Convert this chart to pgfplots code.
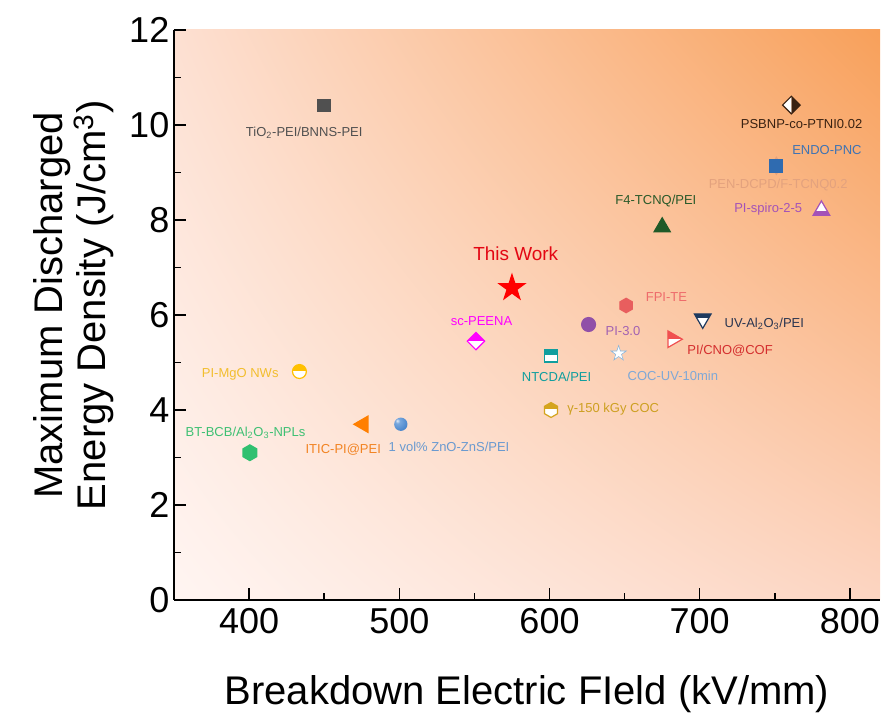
\documentclass[border=0pt]{standalone}
\usepackage{fontspec}
\setmainfont{Liberation Sans}
\usepackage{pgfplots}
\pgfplotsset{compat=1.18}
\usetikzlibrary{plotmarks,shadings}

% ---------- colours ----------
\definecolor{cTiO}{HTML}{505050}
\definecolor{cPSB}{HTML}{3A2212}
\definecolor{cENDO}{HTML}{2F6BB0}
\definecolor{cENDOt}{HTML}{3F73B3}
\definecolor{cPEN}{HTML}{E3A27E}
\definecolor{cF4}{HTML}{1F5A28}
\definecolor{cF4t}{HTML}{2A5A2A}
\definecolor{cSPI}{HTML}{A352B8}
\definecolor{cTW}{HTML}{FF0000}
\definecolor{cTWt}{HTML}{E30613}
\definecolor{cFPI}{HTML}{E85E5E}
\definecolor{cFPIt}{HTML}{EE6B6B}
\definecolor{cPI}{HTML}{9050A8}
\definecolor{cPIt}{HTML}{A262B2}
\definecolor{cUV}{HTML}{1E3A5F}
\definecolor{cUVt}{HTML}{2A3550}
\definecolor{cCNO}{HTML}{F05050}
\definecolor{cCNOt}{HTML}{D42E2E}
\definecolor{cCOC}{HTML}{7FB0DA}
\definecolor{cCOCt}{HTML}{7FA8D6}
\definecolor{cSC}{HTML}{FF00FF}
\definecolor{cNT}{HTML}{109E9E}
\definecolor{cMg}{HTML}{FFC000}
\definecolor{cMgt}{HTML}{F2BE2E}
\definecolor{cGam}{HTML}{D4A41E}
\definecolor{cGamt}{HTML}{CDA021}
\definecolor{cITIC}{HTML}{FF7F00}
\definecolor{cITICt}{HTML}{F28322}
\definecolor{cZnOt}{HTML}{6A9AD0}
\definecolor{zHi}{HTML}{E2ECF8}
\definecolor{zMid}{HTML}{79A8DE}
\definecolor{zMain}{HTML}{4A86CC}
\definecolor{zEdge}{HTML}{3A6EAE}
\definecolor{cBT}{HTML}{30C070}
\definecolor{cBTt}{HTML}{3EC073}
\definecolor{bgUR}{HTML}{F8A05A}
\definecolor{bgUL}{HTML}{FDE0D2}
\definecolor{bgLL}{HTML}{FFF5F2}
\definecolor{bgLR}{HTML}{FCD5C2}

% glossy sphere for the ZnO-ZnS point
\pgfdeclareradialshading{zball}{\pgfpoint{-14bp}{14bp}}{%
  color(0bp)=(zHi); color(9bp)=(zMid); color(32bp)=(zMain); color(72bp)=(zEdge)}

% ---------- mark outlines ----------
\newdimen\mkA
\newdimen\mkIn
\newcommand\pathcircle{\pgfpathcircle{\pgfpointorigin}{\pgfplotmarksize}}
\newcommand\pathsquare{\mkA=2\pgfplotmarksize
  \pgfpathrectangle{\pgfqpoint{-\pgfplotmarksize}{-\pgfplotmarksize}}{\pgfqpoint{\mkA}{\mkA}}}
\newcommand\pathdiamond{%
  \pgfpathmoveto{\pgfqpoint{0pt}{\pgfplotmarksize}}%
  \pgfpathlineto{\pgfqpoint{\pgfplotmarksize}{0pt}}%
  \pgfpathlineto{\pgfqpoint{0pt}{-\pgfplotmarksize}}%
  \pgfpathlineto{\pgfqpoint{-\pgfplotmarksize}{0pt}}%
  \pgfpathclose}
\newcommand\pathtri[3]{%
  \pgfpathmoveto{\pgfqpointpolar{#1}{\pgfplotmarksize}}%
  \pgfpathlineto{\pgfqpointpolar{#2}{\pgfplotmarksize}}%
  \pgfpathlineto{\pgfqpointpolar{#3}{\pgfplotmarksize}}%
  \pgfpathclose}
\newcommand\pathtriup{\pathtri{90}{210}{330}}
\newcommand\pathtridown{\pathtri{270}{30}{150}}
\newcommand\pathtriright{\pathtri{0}{120}{240}}
\newcommand\pathtrileft{\pathtri{180}{300}{60}}
\newcommand\pathhex{%
  \pgfpathmoveto{\pgfqpointpolar{90}{\pgfplotmarksize}}%
  \pgfpathlineto{\pgfqpointpolar{150}{\pgfplotmarksize}}%
  \pgfpathlineto{\pgfqpointpolar{210}{\pgfplotmarksize}}%
  \pgfpathlineto{\pgfqpointpolar{270}{\pgfplotmarksize}}%
  \pgfpathlineto{\pgfqpointpolar{330}{\pgfplotmarksize}}%
  \pgfpathlineto{\pgfqpointpolar{30}{\pgfplotmarksize}}%
  \pgfpathclose}
\newcommand\pathstar{\mkIn=0.382\pgfplotmarksize
  \pgfpathmoveto{\pgfqpointpolar{90}{\pgfplotmarksize}}%
  \pgfpathlineto{\pgfqpointpolar{126}{\mkIn}}%
  \pgfpathlineto{\pgfqpointpolar{162}{\pgfplotmarksize}}%
  \pgfpathlineto{\pgfqpointpolar{198}{\mkIn}}%
  \pgfpathlineto{\pgfqpointpolar{234}{\pgfplotmarksize}}%
  \pgfpathlineto{\pgfqpointpolar{270}{\mkIn}}%
  \pgfpathlineto{\pgfqpointpolar{306}{\pgfplotmarksize}}%
  \pgfpathlineto{\pgfqpointpolar{342}{\mkIn}}%
  \pgfpathlineto{\pgfqpointpolar{18}{\pgfplotmarksize}}%
  \pgfpathlineto{\pgfqpointpolar{54}{\mkIn}}%
  \pgfpathclose}

% clip to one half of the mark: T, B, L or R
\newcommand\cliphalf[1]{\mkA=2\pgfplotmarksize
  \if#1T\pgfpathrectangle{\pgfqpoint{-\mkA}{0pt}}{\pgfqpoint{2\mkA}{\mkA}}\fi
  \if#1B\pgfpathrectangle{\pgfqpoint{-\mkA}{-\mkA}}{\pgfqpoint{2\mkA}{\mkA}}\fi
  \if#1R\pgfpathrectangle{\pgfqpoint{0pt}{-\mkA}}{\pgfqpoint{\mkA}{2\mkA}}\fi
  \if#1L\pgfpathrectangle{\pgfqpoint{-\mkA}{-\mkA}}{\pgfqpoint{\mkA}{2\mkA}}\fi
  \pgfusepath{clip}}
% half-coloured mark: #1 outline, #2 coloured half, #3 white half
\newcommand\halfmark[3]{%
  \pgfscope\cliphalf{#2}#1\pgfusepath{fill}\endpgfscope
  \pgfscope\cliphalf{#3}\pgfsetfillcolor{white}#1\pgfusepath{fill}\endpgfscope
  #1\pgfusepath{stroke}}

\pgfdeclareplotmark{fstar}{\pathstar\pgfusepathqfillstroke}
\pgfdeclareplotmark{fhex}{\pathhex\pgfusepathqfillstroke}
\pgfdeclareplotmark{fdia}{\pathdiamond\pgfusepathqfillstroke}
\pgfdeclareplotmark{ftriup}{\pathtriup\pgfusepathqfillstroke}
\pgfdeclareplotmark{ftrileft}{\pathtrileft\pgfusepathqfillstroke}
\pgfdeclareplotmark{sphere}{\pathcircle\pgfshadepath{zball}{0}\pgfusepath{}}
\pgfdeclareplotmark{hcircT}{\halfmark{\pathcircle}{T}{B}}
\pgfdeclareplotmark{hsqT}{\halfmark{\pathsquare}{T}{B}}
\pgfdeclareplotmark{hdiaT}{\halfmark{\pathdiamond}{T}{B}}
\pgfdeclareplotmark{hdiaR}{\halfmark{\pathdiamond}{R}{L}}
\pgfdeclareplotmark{htriupB}{\halfmark{\pathtriup}{B}{T}}
\pgfdeclareplotmark{htridownT}{\halfmark{\pathtridown}{T}{B}}
\pgfdeclareplotmark{htrirightT}{\halfmark{\pathtriright}{T}{B}}
\pgfdeclareplotmark{hhexT}{\halfmark{\pathhex}{T}{B}}

\tikzset{every mark/.append style={line width=0.9pt}}
\newcommand\lbl{\fontsize{9.75}{11}\selectfont}

\begin{document}
\begin{tikzpicture}
\begin{axis}[
  at={(0,0)}, anchor=south west,
  scale only axis, width=529.5pt, height=427.5pt,
  xmin=350, xmax=820, ymin=0, ymax=12,
  axis x line*=bottom, axis y line*=left,
  axis line style={-, line width=1.3pt},
  xtick={400,500,...,800}, ytick={0,2,...,12},
  minor x tick num=1, minor y tick num=1,
  tick align=inside,
  major tick length=9pt, minor tick length=5pt,
  every tick/.style={black, line width=1.1pt},
  /pgf/number format/assume math mode=true,
  tick label style={font=\fontsize{27}{32}\selectfont},
  xticklabel style={yshift=-3pt},
  label style={font=\fontsize{30}{32.5}\selectfont},
  xlabel={Breakdown Electric FIeld (kV/mm)},
  ylabel={Maximum Discharged\\Energy Density (J/cm\textsuperscript{3})},
  xlabel style={at={(axis description cs:0.5,-0.165)}, anchor=center},
  ylabel style={at={(axis description cs:-0.1424,0.517)}, anchor=center, align=center},
  axis background/.style={shade, upper left=bgUL, upper right=bgUR,
    lower left=bgLL, lower right=bgLR},
  clip=false,
]
% reported dielectrics: breakdown field (kV/mm) vs discharged energy density (J/cm^3)
\addplot[only marks, mark=square*, mark size=4.6pt, color=cTiO] coordinates {(450,10.41)};
\addplot[only marks, mark=hdiaR, mark size=6.6pt, color=cPSB] coordinates {(761,10.42)};
\addplot[only marks, mark=fdia, mark size=5pt, color=cPEN, mark options={xscale=0.8, yscale=1.35}] coordinates {(751,9.14)};
\addplot[only marks, mark=square*, mark size=4.9pt, color=cENDO] coordinates {(751,9.14)};
\addplot[only marks, mark=ftriup, mark size=7pt, color=cF4] coordinates {(675,7.85)};
\addplot[only marks, mark=htriupB, mark size=7.2pt, color=cSPI] coordinates {(781,8.2)};
\addplot[only marks, mark=fstar, mark size=10pt, color=cTW] coordinates {(575,6.57)};
\addplot[only marks, mark=fhex, mark size=5.4pt, color=cFPI] coordinates {(651,6.2)};
\addplot[only marks, mark=*, mark size=5.2pt, color=cPI] coordinates {(626,5.8)};
\addplot[only marks, mark=htridownT, mark size=7.2pt, color=cUV] coordinates {(702,5.92)};
\addplot[only marks, mark=htrirightT, mark size=7.2pt, color=cCNO] coordinates {(682,5.49)};
\addplot[only marks, mark=fstar, mark size=6pt, color=cCOC, mark options={fill=white}] coordinates {(646,5.19)};
\addplot[only marks, mark=hdiaT, mark size=6.5pt, color=cSC] coordinates {(551,5.45)};
\addplot[only marks, mark=hsqT, mark size=4.6pt, color=cNT] coordinates {(601,5.14)};
\addplot[only marks, mark=hcircT, mark size=5.2pt, color=cMg] coordinates {(433.5,4.81)};
\addplot[only marks, mark=hhexT, mark size=5.6pt, color=cGam] coordinates {(601,4.0)};
\addplot[only marks, mark=ftrileft, mark size=7pt, color=cITIC] coordinates {(476,3.7)};
\addplot[only marks, mark=sphere, mark size=5pt] coordinates {(501,3.7)};
\addplot[only marks, mark=fhex, mark size=5.9pt, color=cBT] coordinates {(400.5,3.1)};

% sample names
\node[font=\lbl, text=cTiO] at (axis cs:436.7,9.84) {TiO\textsubscript{2}-PEI/BNNS-PEI};
\node[font=\lbl, text=cPSB] at (axis cs:767.8,10.03) {PSBNP-co-PTNI0.02};
\node[font=\lbl, text=cENDOt] at (axis cs:784.7,9.47) {ENDO-PNC};
\node[font=\lbl, text=cPEN] at (axis cs:752.2,8.74) {PEN-DCPD/F-TCNQ0.2};
\node[font=\lbl, text=cF4t] at (axis cs:670.8,8.39) {F4-TCNQ/PEI};
\node[font=\lbl, text=cSPI] at (axis cs:745.6,8.23) {PI-spiro-2-5};
\node[font=\fontsize{14.2}{16}\selectfont, text=cTWt] at (axis cs:577.5,7.3) {This Work};
\node[font=\lbl, text=cFPIt] at (axis cs:677.8,6.37) {FPI-TE};
\node[font=\lbl, text=cPIt] at (axis cs:648.9,5.67) {PI-3.0};
\node[font=\lbl, text=cUVt] at (axis cs:743,5.81) {UV-Al\textsubscript{2}O\textsubscript{3}/PEI};
\node[font=\lbl, text=cCNOt] at (axis cs:720.2,5.24) {PI/CNO@COF};
\node[font=\lbl, text=cCOCt] at (axis cs:682.1,4.72) {COC-UV-10min};
\node[font=\lbl, text=cSC] at (axis cs:554.7,5.87) {sc-PEENA};
\node[font=\lbl, text=cNT] at (axis cs:604.7,4.7) {NTCDA/PEI};
\node[font=\lbl, text=cMgt] at (axis cs:394.1,4.76) {PI-MgO NWs};
\node[font=\lbl, text=cGamt] at (axis cs:642.4,4.01) {γ-150 kGy COC};
\node[font=\lbl, text=cITICt] at (axis cs:462.7,3.16) {ITIC-PI@PEI};
\node[font=\lbl, text=cZnOt] at (axis cs:533.1,3.23) {1 vol\% ZnO-ZnS/PEI};
\node[font=\lbl, text=cBTt] at (axis cs:397.6,3.52) {BT-BCB/Al\textsubscript{2}O\textsubscript{3}-NPLs};
\end{axis}
\pgfresetboundingbox
\path[use as bounding box] (-130.5pt,-87.75pt) rectangle (536.25pt,450pt);
\end{tikzpicture}
\end{document}
